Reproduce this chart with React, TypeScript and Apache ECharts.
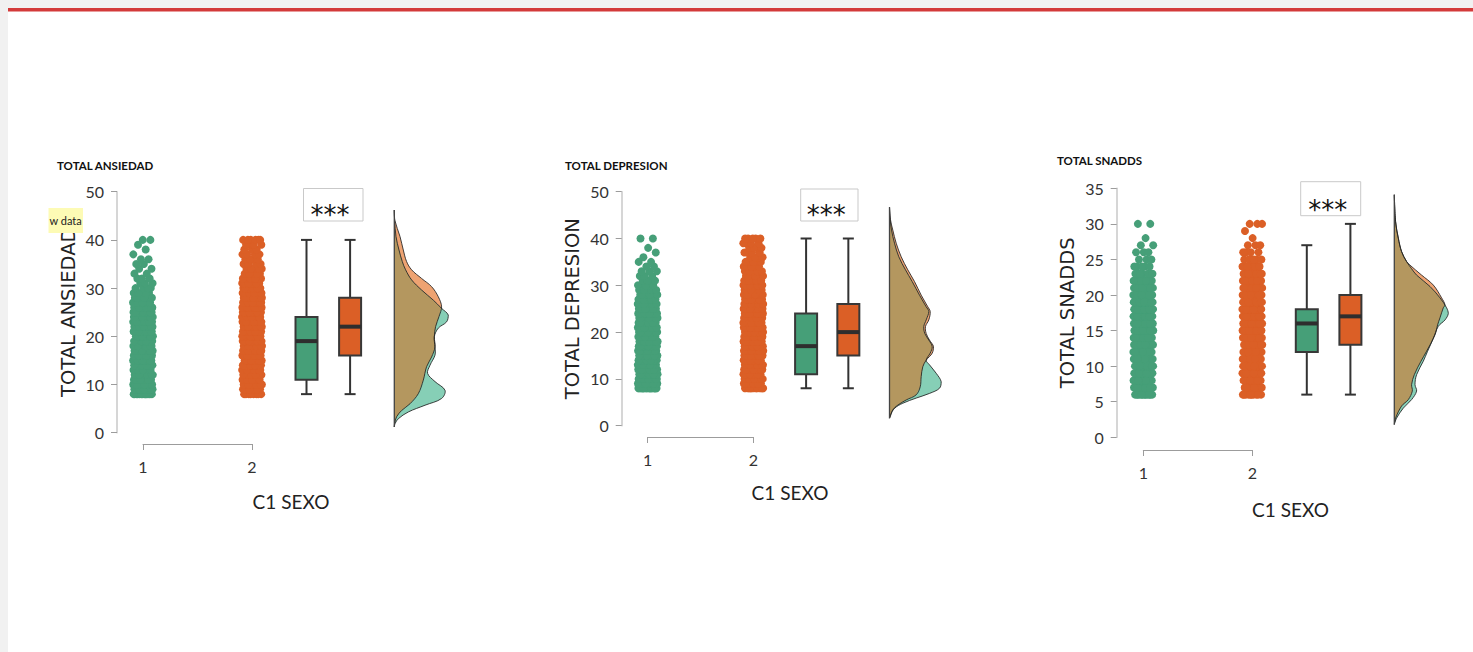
import React, { useEffect, useRef } from 'react';
import * as echarts from 'echarts';

// ---------- texts ----------
const TITLES = ['TOTAL ANSIEDAD', 'TOTAL DEPRESION', 'TOTAL SNADDS'];
const GROUP_LABELS = ['1', '2'];
const X_NAME = 'C1 SEXO';
const SIG_LABEL = '***';
const HOVER_LABEL = 'w data';

// ---------- axes ----------
const Y_MAX = [50, 50, 35];
const Y_STEP = [10, 10, 5];

// ---------- raw data: frequency of each integer score, per group ----------
const SCORE_START = [8, 8, 6];

const ANX_COUNTS_1 = [14, 16, 14, 10, 9, 9, 10, 11, 11, 11, 11, 11, 11, 12, 14, 15, 15, 13, 11, 9, 6, 5, 4, 3, 3, 2, 2, 2, 2, 1, 1, 1, 2];
const ANX_COUNTS_2 = [8, 8, 9, 9, 10, 10, 11, 11, 12, 13, 13, 13, 13, 14, 15, 15, 15, 16, 16, 15, 14, 12, 10, 9, 7, 6, 5, 4, 4, 4, 3, 4, 6];
const DEP_COUNTS_1 = [16, 18, 17, 15, 13, 12, 12, 12, 13, 13, 12, 11, 11, 11, 11, 12, 12, 11, 9, 8, 7, 6, 5, 4, 3, 3, 2, 2, 1, 1, 1, 0, 2];
const DEP_COUNTS_2 = [10, 11, 11, 11, 11, 11, 12, 13, 14, 14, 13, 12, 12, 12, 13, 14, 14, 14, 13, 12, 11, 10, 9, 8, 7, 6, 5, 5, 4, 4, 4, 4, 5];
const SNA_COUNTS_1 = [12, 12, 12, 13, 14, 15, 16, 17, 18, 19, 20, 21, 21, 19, 16, 13, 10, 7, 5, 3, 3, 2, 1, 0, 2];
const SNA_COUNTS_2 = [10, 10, 10, 11, 12, 13, 14, 15, 16, 17, 18, 19, 20, 19, 17, 15, 13, 10, 8, 6, 4, 3, 1, 1, 3];

// ---------- box statistics [min, Q1, median, Q3, max] ----------
const ANX_BOX = [[8, 11, 19, 24, 40], [8, 16, 22, 28, 40]];
const DEP_BOX = [[8, 11, 17, 24, 40], [8, 15, 20, 26, 40]];
const SNA_BOX = [[6, 12, 16, 18, 27], [6, 13, 17, 20, 30]];

// ---------- densities [score, density] (top -> bottom) ----------
const ANX_DENS_1 = [[46.2, 0], [44.1, 0.0003], [40.7, 0.0017], [37.9, 0.0047], [35.5, 0.008], [33.8, 0.0113], [31.7, 0.0173], [29.6, 0.0273], [27.5, 0.039], [25.8, 0.0473], [24.4, 0.054], [23.0, 0.0523], [21.7, 0.044], [19.9, 0.04], [17.8, 0.0407], [16.1, 0.0407], [14.0, 0.0357], [12.3, 0.0333], [10.6, 0.0407], [8.8, 0.0507], [7.1, 0.0473], [5.7, 0.0307], [4.3, 0.014], [2.9, 0.004], [1.9, 0.0008], [1.2, 0]];
const ANX_DENS_2 = [[46.2, 0], [44.1, 0.0005], [40.7, 0.0057], [37.9, 0.009], [35.5, 0.0123], [33.8, 0.0173], [32.0, 0.0273], [30.3, 0.0373], [28.2, 0.044], [26.1, 0.0473], [24.1, 0.0447], [22.0, 0.0413], [19.9, 0.04], [17.8, 0.0407], [15.7, 0.0373], [13.7, 0.0323], [10.9, 0.029], [8.1, 0.024], [6.0, 0.0157], [4.6, 0.0073], [3.3, 0.0023], [1.9, 0.0003], [1.2, 0]];
const DEP_DENS_1 = [[46.7, 0], [44, 0.0007], [41.8, 0.002], [39.0, 0.005], [36.1, 0.0093], [33.3, 0.016], [30.8, 0.0227], [27.9, 0.03], [25.4, 0.0367], [24.4, 0.0393], [22.6, 0.0367], [21.2, 0.0343], [19.7, 0.0353], [18.3, 0.0393], [16.9, 0.0427], [15.5, 0.0407], [14.0, 0.0367], [13.0, 0.04], [11.2, 0.0467], [9.4, 0.0517], [8.0, 0.05], [6.9, 0.04], [5.9, 0.0267], [4.8, 0.0133], [3.7, 0.005], [2.3, 0.001], [1.6, 0]];
const DEP_DENS_2 = [[46.7, 0], [44, 0.001], [41.8, 0.0033], [39.0, 0.0067], [36.1, 0.0117], [33.3, 0.0183], [30.8, 0.025], [27.9, 0.0317], [25.4, 0.0383], [24.4, 0.0407], [22.6, 0.0393], [21.2, 0.036], [19.7, 0.0367], [18.3, 0.04], [16.9, 0.044], [15.5, 0.0427], [14.0, 0.0367], [12.6, 0.0333], [10.5, 0.0317], [8.3, 0.0307], [6.6, 0.0267], [5.5, 0.0167], [4.4, 0.0083], [3.4, 0.0033], [1.9, 0.0007], [1.6, 0]];
const SNA_DENS_1 = [[34.1, 0], [30.3, 0.0013], [28.0, 0.004], [26.1, 0.0073], [24.7, 0.0123], [23.7, 0.0173], [22.8, 0.0223], [21.2, 0.0357], [19.6, 0.0457], [18.2, 0.0523], [17.4, 0.054], [16.5, 0.0507], [15.6, 0.044], [13.9, 0.039], [12.1, 0.0333], [10.7, 0.029], [8.8, 0.0223], [7.4, 0.0207], [6.5, 0.0223], [5.3, 0.0173], [4.1, 0.009], [2.7, 0.0023], [1.8, 0]];
const SNA_DENS_2 = [[34.1, 0], [30.3, 0.0013], [28.0, 0.004], [26.1, 0.0073], [24.7, 0.0123], [24.2, 0.0157], [22.8, 0.0273], [21.4, 0.039], [19.6, 0.0473], [18.6, 0.0507], [18.2, 0.049], [16.8, 0.0457], [15.8, 0.0433], [14.4, 0.0407], [12.1, 0.0323], [10.7, 0.0267], [8.8, 0.02], [7.4, 0.0173], [6.5, 0.018], [5.3, 0.014], [4.4, 0.0073], [2.7, 0.0013], [1.8, 0]];

const COUNTS = [[ANX_COUNTS_1, ANX_COUNTS_2], [DEP_COUNTS_1, DEP_COUNTS_2], [SNA_COUNTS_1, SNA_COUNTS_2]];
const BOXES = [ANX_BOX, DEP_BOX, SNA_BOX];
const DENS = [[ANX_DENS_1, ANX_DENS_2], [DEP_DENS_1, DEP_DENS_2], [SNA_DENS_1, SNA_DENS_2]];

// ---------- layout (pixels) ----------
const LAYOUT = [
  { axisX: 117, x1: 143, x2: 252, top: 191.7, bottom: 432.7, bracketY: 444, densX: 394.3, titleX: 57, titleY: 166, nameX: 291, nameY: 501, sig: [303.5, 188.5, 59.5, 32.5], sigX: 330, sigY: 215 },
  { axisX: 621.7, x1: 647.7, x2: 753.3, top: 191.7, bottom: 425.7, bracketY: 437, densX: 889.5, titleX: 565, titleY: 166, nameX: 790, nameY: 492.5, sig: [800.7, 189, 57.3, 32], sigX: 826.3, sigY: 215 },
  { axisX: 1116.7, x1: 1143.3, x2: 1252.3, top: 188.3, bottom: 437.3, bracketY: 450, densX: 1394.3, titleX: 1057, titleY: 161.5, nameX: 1290.5, nameY: 509, sig: [1300.7, 181.7, 60, 34], sigX: 1327.7, sigY: 210 },
];
const BOX_POS = [2.5, 2.9];
const JITTER_PX = 10;
const DENS_MAX = 0.06;
const DENS_W = 60;

const GREEN = '#469f78';
const ORANGE = '#db5f26';
const GREEN_D = '#86cfb6';
const ORANGE_D = '#eea372';
const OVERLAP_D = '#b4975f';

function interp(curve: number[][], v: number) {
  if (v > curve[0][0] || v < curve[curve.length - 1][0]) return 0;
  for (let i = 0; i < curve.length - 1; i++) {
    const [va, da] = curve[i];
    const [vb, db] = curve[i + 1];
    if (v <= va && v >= vb) {
      const t = va === vb ? 0 : (va - v) / (va - vb);
      return da + t * (db - da);
    }
  }
  return 0;
}

function overlapCurve(a: number[][], b: number[][]) {
  const vs = Array.from(new Set([...a.map((p) => p[0]), ...b.map((p) => p[0])])).sort((x, y) => y - x);
  const out: number[][] = [];
  for (let i = 0; i < vs.length; i++) {
    const v = vs[i];
    const fa = interp(a, v), fb = interp(b, v);
    out.push([v, Math.min(fa, fb)]);
    if (i < vs.length - 1) {
      const v2 = vs[i + 1];
      const d1 = fa - fb;
      const d2 = interp(a, v2) - interp(b, v2);
      if (d1 * d2 < 0) {
        const t = d1 / (d1 - d2);
        const vc = v + t * (v2 - v);
        out.push([vc, interp(a, vc)]);
      }
    }
  }
  return out;
}

function buildOption() {
  const grid: any[] = [];
  const xAxis: any[] = [];
  const yAxis: any[] = [];
  const series: any[] = [];
  const graphic: any[] = [
    { type: 'rect', shape: { x: 0, y: 0, width: 8, height: 652 }, style: { fill: '#f1f1f1' }, silent: true },
    { type: 'rect', shape: { x: 0, y: 0, width: 1473, height: 8 }, style: { fill: '#f1f1f1' }, silent: true },
    { type: 'rect', shape: { x: 8, y: 8, width: 1465, height: 3.6 }, style: { fill: '#d33a3a' }, silent: true },
  ];

  LAYOUT.forEach((L, p) => {
    const gi = p * 2;
    const unit = L.x2 - L.x1;
    grid.push({ left: L.x1, top: L.top, width: unit, height: L.bottom - L.top });
    grid.push({ left: L.densX, top: L.top, width: DENS_W, height: L.bottom - L.top });

    xAxis.push({
      gridIndex: gi, type: 'value', min: 1, max: 2, interval: 1,
      offset: L.bracketY - L.bottom,
      axisLine: { show: true, onZero: false, lineStyle: { color: '#9c9c9c', width: 1 } },
      axisTick: { show: true, length: 6, lineStyle: { color: '#9c9c9c' } },
      axisLabel: { margin: 14, fontSize: 16, color: '#333', fontFamily: 'Lato', showMinLabel: true, showMaxLabel: true,
        formatter: (v: number) => GROUP_LABELS[Math.round(v) - 1] || '' },
      splitLine: { show: false },
    });
    xAxis.push({ gridIndex: gi + 1, type: 'value', min: 0, max: DENS_MAX, show: false });

    yAxis.push({
      gridIndex: gi, type: 'value', min: 0, max: Y_MAX[p], interval: Y_STEP[p],
      offset: L.x1 - L.axisX,
      name: TITLES[p], nameLocation: 'middle', nameGap: 39, nameRotate: 90,
      nameTextStyle: { fontSize: 19.5, fontFamily: 'DejaVu Sans', color: '#222' },
      axisLine: { show: true, onZero: false, lineStyle: { color: '#c8c8c8', width: 1.5 } },
      axisTick: { show: true, length: 6, lineStyle: { color: '#9c9c9c' } },
      axisLabel: { fontSize: 16, color: '#333', margin: 13, fontFamily: 'Lato' },
      splitLine: { show: false },
    });
    yAxis.push({ gridIndex: gi + 1, type: 'value', min: 0, max: Y_MAX[p], show: false });

    // jittered raw points
    let k = 0;
    COUNTS[p].forEach((counts, g) => {
      const pts: number[][] = [];
      counts.forEach((c, i) => {
        const score = SCORE_START[p] + i;
        for (let n = 0; n < c; n++) {
          k++;
          const j = ((k * 0.6180339887) % 1) * 2 - 1;
          pts.push([g + 1 + (j * JITTER_PX) / unit, score]);
        }
      });
      series.push({
        type: 'scatter', xAxisIndex: gi, yAxisIndex: gi, data: pts, clip: false,
        symbolSize: 8, itemStyle: { color: g === 0 ? GREEN : ORANGE, opacity: 1 },
        silent: true, z: 2,
      });
    });

    // box plots
    series.push({
      type: 'custom', xAxisIndex: gi, yAxisIndex: gi, clip: false, z: 3, silent: true,
      data: BOXES[p].map((b, g) => [g, ...b]),
      encode: { x: 0, y: [1, 2, 3, 4, 5] },
      renderItem: (params: any, api: any) => {
        const g = api.value(0);
        const bx = BOX_POS[g];
        const xc = api.coord([bx, 0])[0];
        const yv = (d: number) => api.coord([bx, api.value(d)])[1];
        const yMin = yv(1), yQ1 = yv(2), yMed = yv(3), yQ3 = yv(4), yMax = yv(5);
        const hw = 11, cap = 5.5;
        const ls = { stroke: '#333', lineWidth: 2 };
        return {
          type: 'group',
          children: [
            { type: 'line', shape: { x1: xc, y1: yMax, x2: xc, y2: yQ3 }, style: ls },
            { type: 'line', shape: { x1: xc, y1: yQ1, x2: xc, y2: yMin }, style: ls },
            { type: 'line', shape: { x1: xc - cap, y1: yMax, x2: xc + cap, y2: yMax }, style: ls },
            { type: 'line', shape: { x1: xc - cap, y1: yMin, x2: xc + cap, y2: yMin }, style: ls },
            { type: 'rect', shape: { x: xc - hw, y: yQ3, width: hw * 2, height: yQ1 - yQ3 }, style: { fill: g === 0 ? GREEN : ORANGE, stroke: '#383838', lineWidth: 2 } },
            { type: 'line', shape: { x1: xc - hw, y1: yMed, x2: xc + hw, y2: yMed }, style: { stroke: '#2e2e2e', lineWidth: 4 } },
          ],
        };
      },
    });

    // half-violin densities
    const [dg, dor] = DENS[p];
    const ov = overlapCurve(dg, dor);
    series.push({
      type: 'custom', xAxisIndex: gi + 1, yAxisIndex: gi + 1, clip: false, z: 3, silent: true,
      data: [[0, dg[0][0]]],
      renderItem: (params: any, api: any) => {
        const curvePts = (c: number[][]) => c.map(([v, d]) => api.coord([d, v]));
        const fillPts = (c: number[][]) => [
          ...curvePts(c),
          ...c.slice(1, -1).reverse().map(([v]) => api.coord([0, v])),
        ];
        const top = api.coord([0, dg[0][0]]);
        const bot = api.coord([0, dg[dg.length - 1][0]]);
        const cons = [top, bot];
        const sm = 0.35;
        return {
          type: 'group',
          children: [
            { type: 'polygon', shape: { points: fillPts(dor), smooth: sm, smoothConstraint: cons }, style: { fill: ORANGE_D } },
            { type: 'polygon', shape: { points: fillPts(dg), smooth: sm, smoothConstraint: cons }, style: { fill: GREEN_D } },
            { type: 'polygon', shape: { points: fillPts(ov), smooth: sm, smoothConstraint: cons }, style: { fill: OVERLAP_D } },
            { type: 'polyline', shape: { points: curvePts(dor), smooth: sm, smoothConstraint: cons }, style: { fill: null, stroke: '#222', lineWidth: 1, opacity: 0.85 } },
            { type: 'polyline', shape: { points: curvePts(dg), smooth: sm, smoothConstraint: cons }, style: { fill: null, stroke: '#222', lineWidth: 1, opacity: 0.85 } },
            { type: 'line', shape: { x1: top[0], y1: top[1], x2: bot[0], y2: bot[1] }, style: { stroke: '#444', lineWidth: 1.3 } },
          ],
        };
      },
    });

    // annotations
    graphic.push({
      type: 'text', left: L.titleX, top: L.titleY - 7, silent: true,
      style: { text: TITLES[p], fontSize: 11.5, fontWeight: 'bold', fontFamily: 'Lato', fill: '#111' },
    });
    graphic.push({
      type: 'text', x: L.nameX, y: L.nameY, silent: true,
      style: { text: X_NAME, fontSize: 19, fontFamily: 'Lato', fill: '#222', align: 'center', verticalAlign: 'middle' },
    });
    graphic.push({
      type: 'rect', silent: true,
      shape: { x: L.sig[0], y: L.sig[1], width: L.sig[2], height: L.sig[3] },
      style: { fill: '#fff', stroke: '#c9c9c9', lineWidth: 1 },
    });
    graphic.push({
      type: 'text', x: L.sigX, y: L.sigY, silent: true,
      style: { text: SIG_LABEL, fontSize: 26, fontFamily: 'DejaVu Sans', fill: '#111', align: 'center', verticalAlign: 'middle' },
    });
  });

  graphic.push({
    type: 'rect', silent: true, z: 100,
    shape: { x: 48.5, y: 208, width: 34.5, height: 25 },
    style: { fill: '#fdfbb5' },
  });
  graphic.push({
    type: 'text', x: 49.5, y: 220.5, silent: true, z: 101,
    style: { text: HOVER_LABEL, fontSize: 11, fontFamily: 'Lato', fill: '#222', verticalAlign: 'middle' },
  });

  return {
    animation: false,
    backgroundColor: '#ffffff',
    grid, xAxis, yAxis, series, graphic,
  };
}

export default function App() {
  const ref = useRef<HTMLDivElement>(null);
  useEffect(() => {
    if (!ref.current) return;
    const chart = echarts.init(ref.current, undefined, { renderer: 'svg' });
    chart.setOption(buildOption() as any);
    return () => chart.dispose();
  }, []);
  return (
    <div
      ref={ref}
      style={{ position: 'absolute', left: 0, top: 0, width: 1473, height: 652 }}
    />
  );
}
